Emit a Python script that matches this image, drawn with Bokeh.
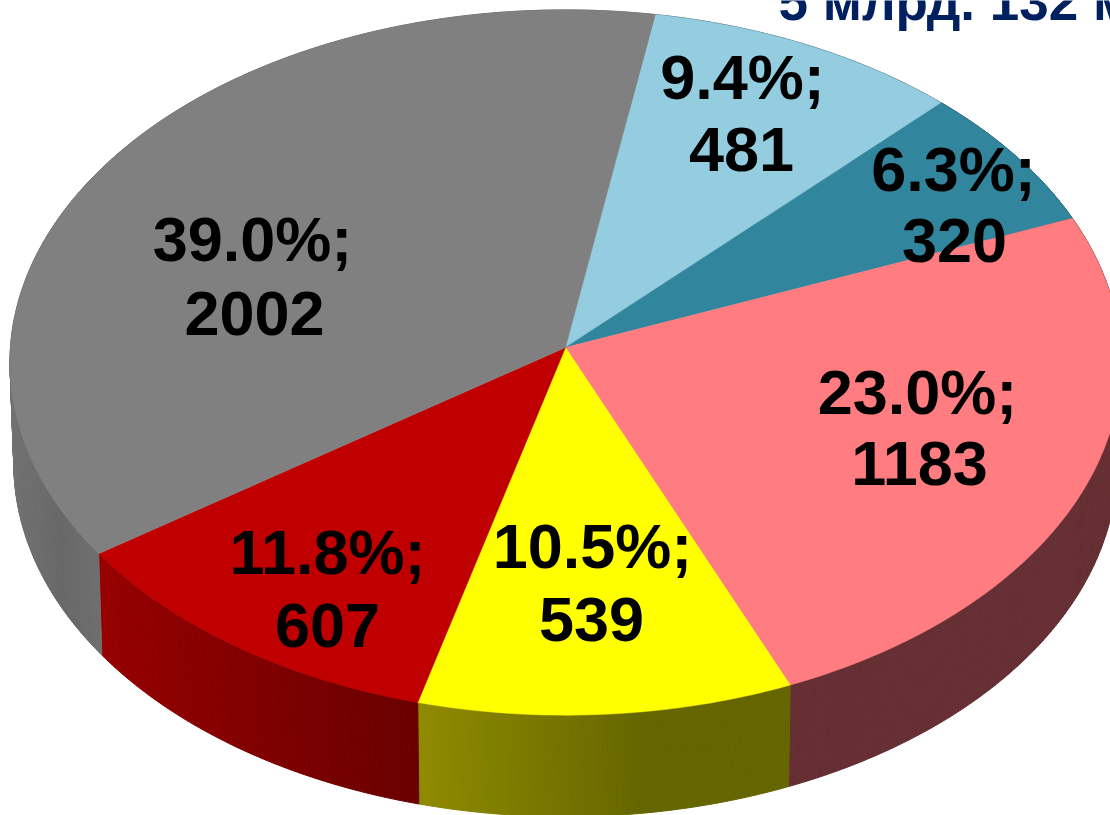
import math
from bokeh.plotting import figure
from bokeh.embed import file_html
from bokeh.resources import INLINE
from bokeh.core.properties import value

# ---- data (clockwise from the top boundary) ----
values = [481, 320, 1183, 539, 607, 2002]
percents = ["9.4%;", "6.3%;", "23.0%;", "10.5%;", "11.8%;", "39.0%;"]
top_colors = ["#95CDE0", "#31859C", "#FF7C80", "#FFFF00", "#C00000", "#808080"]
title_text = "5 млрд. 132 м"

# ---- side-wall shading: (pixel x, r, g, b) stops per slice ----
side_stops = [
    [(0, 60, 100, 110)],
    [(0, 20, 60, 70)],
    [(0, 102, 47, 51)],
    [(415, 145, 139, 0), (640, 102, 102, 0), (800, 102, 102, 0)],
    [(102, 150, 0, 0), (414, 106, 0, 0)],
    [(10, 114, 114, 114), (60, 104, 104, 104), (105, 112, 112, 112)],
]

# ---- label layout: centre x, baseline of first line, baseline of second ----
label_x1 = [742, 953, 917, 592, 327, 252]
label_x2 = [741, 954, 919, 591, 327, 254]
label_y1 = [76, 168, 391, 545, 551, 238]
label_y2 = [149, 240, 463, 619, 625, 313]

# ---- projection of the tilted disc ----
CX, CY = 565.0, 347.0
RX, RY = 555.0, 352.0
K = 0.0426
DEPTH = 101.5
BOTTOM_SCALE = 0.993
START = 80.3


def warp(alpha):
    """Turn a clockwise slice angle into the picture's foreshortened angle."""
    a = math.radians(alpha)
    return START - (alpha + 4 - 4 * math.cos(a) + 1.1 * math.sin(a) - 0.5 * math.sin(2 * a))


def rim(alpha, bottom=False):
    phi = math.radians(warp(alpha))
    d = 1 + K * math.sin(phi)
    x = RX * math.cos(phi) / d
    y = RY * math.sin(phi) / d
    if bottom:
        return CX + x * BOTTOM_SCALE, CY - y + DEPTH
    return CX + x, CY - y


def shade(stops, x):
    if len(stops) == 1:
        return tuple(stops[0][1:])
    if x <= stops[0][0]:
        return tuple(stops[0][1:])
    for s0, s1 in zip(stops, stops[1:]):
        if x <= s1[0]:
            t = (x - s0[0]) / (s1[0] - s0[0])
            return tuple(round(s0[i] + t * (s1[i] - s0[i])) for i in (1, 2, 3))
    return tuple(stops[-1][1:])


total = sum(values)
edges = [0.0]
for v in values:
    edges.append(edges[-1] + 360.0 * v / total)

p = figure(width=1110, height=815, x_range=(0, 1110), y_range=(815, 0),
           output_backend="svg", toolbar_location=None, min_border=0)
p.axis.visible = False
p.grid.visible = False
p.outline_line_color = None
p.styles = {"position": "absolute", "left": "0px", "top": "0px"}

# side walls
sx, sy, sc = [], [], []
for i in range(len(values)):
    a0, a1 = edges[i], edges[i + 1]
    n = max(2, int((a1 - a0) / 0.5))
    for j in range(n):
        b0 = a0 + (a1 - a0) * j / n
        b1 = a0 + (a1 - a0) * (j + 1) / n
        t0, t1 = rim(b0), rim(b1)
        u0, u1 = rim(b0, True), rim(b1, True)
        sx.append([t0[0], t1[0], u1[0], u0[0]])
        sy.append([t0[1], t1[1], u1[1], u0[1]])
        r, g, b = shade(side_stops[i], (t0[0] + t1[0]) / 2)
        sc.append(f"#{r:02x}{g:02x}{b:02x}")
p.patches(sx, sy, fill_color=sc, line_color=sc, line_width=1)

# top face
tx, ty = [], []
for i in range(len(values)):
    a0, a1 = edges[i], edges[i + 1]
    n = max(8, int(a1 - a0))
    pts = [rim(a0 + (a1 - a0) * j / n) for j in range(n + 1)]
    tx.append([CX] + [q[0] for q in pts])
    ty.append([CY] + [q[1] for q in pts])
p.patches(tx, ty, fill_color=top_colors, line_color=top_colors, line_width=0.5)

font = value("Liberation Sans")
for i, v in enumerate(values):
    p.text([label_x1[i]], [label_y1[i]], text=[percents[i]], text_font=font,
           text_font_size="63px", text_font_style="bold", text_color="#000000",
           text_align="center", text_baseline="alphabetic")
    p.text([label_x2[i]], [label_y2[i]], text=[str(v)], text_font=font,
           text_font_size="63px", text_font_style="bold", text_color="#000000",
           text_align="center", text_baseline="alphabetic")

p.text([778], [1], text=[title_text], text_font=font, text_font_size="53px",
       text_font_style="bold", text_color="#002060", text_align="left",
       text_baseline="alphabetic")

open("out.html", "w").write(file_html(p, INLINE))
